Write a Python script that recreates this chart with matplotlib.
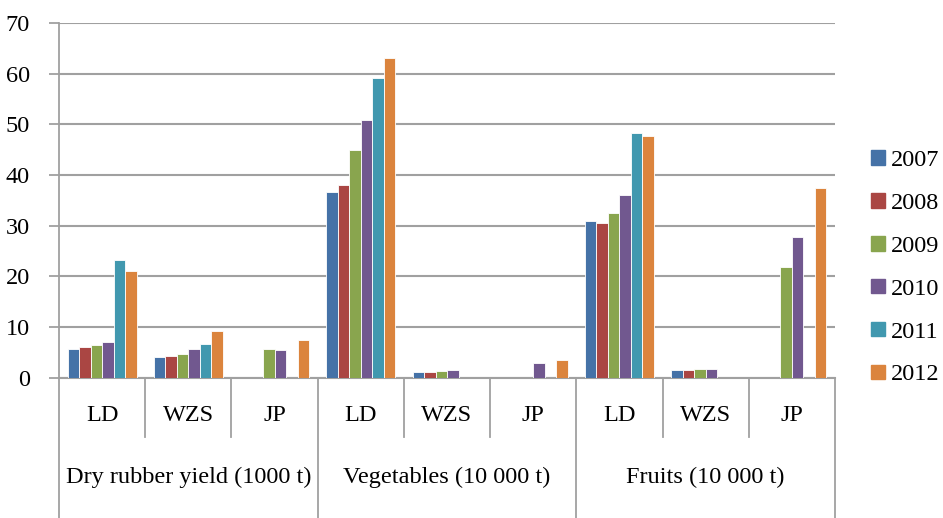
"""
Grouped bar chart of dry rubber, vegetable and fruit output by district, 2007-2012.

Writes out.png next to the script.
"""

from __future__ import annotations

import matplotlib

matplotlib.use("Agg")
import matplotlib.pyplot as plt
import numpy as np
from matplotlib.lines import Line2D
from matplotlib.patches import Patch
from matplotlib.transforms import blended_transform_factory


GROUPS = ["Dry rubber yield (1000 t)", "Vegetables (10 000 t)", "Fruits (10 000 t)"]
SITES = ["LD", "WZS", "JP"]
YEARS = ["2007", "2008", "2009", "2010", "2011", "2012"]

# one list per year, order: rubber LD/WZS/JP, vegetables LD/WZS/JP, fruits LD/WZS/JP
nan = np.nan
Y2007 = [5.6, 4.0, nan, 36.6, 1.0, nan, 30.9, 1.45, nan]
Y2008 = [6.0, 4.2, nan, 38.1, 1.05, nan, 30.5, 1.5, nan]
Y2009 = [6.4, 4.7, 5.6, 44.9, 1.25, nan, 32.4, 1.6, 21.8]
Y2010 = [7.1, 5.6, 5.4, 50.8, 1.45, 2.8, 36.1, 1.65, 27.8]
Y2011 = [23.3, 6.6, nan, 59.2, nan, nan, 48.2, nan, nan]
Y2012 = [21.1, 9.2, 7.5, 63.0, nan, 3.4, 47.6, nan, 37.4]

COLORS = ["#4572A7", "#AA4643", "#89A54E", "#71588F", "#4198AF", "#DB843D"]
GRID = "#A0A0A0"
FONT = "Liberation Serif"
FS = 17.5


def draw_category_axis(ax) -> None:
    trans = blended_transform_factory(ax.transData, ax.transAxes)
    n_sub = len(GROUPS) * len(SITES)
    for i in range(n_sub):
        ax.text(i, -0.108, SITES[i % len(SITES)], transform=trans,
                ha="center", va="center", fontsize=FS, family=FONT)
    for g, name in enumerate(GROUPS):
        center = g * len(SITES) + (len(SITES) - 1) / 2
        ax.text(center, -0.282, name, transform=trans,
                ha="center", va="center", fontsize=FS, family=FONT)
    for k in range(n_sub + 1):
        x = k - 0.5
        y_end = -0.40 if k % len(SITES) == 0 else -0.168
        ax.add_line(Line2D([x, x], [0, y_end], transform=trans, color=GRID,
                           linewidth=1.3, clip_on=False))


def main() -> None:
    series = [Y2007, Y2008, Y2009, Y2010, Y2011, Y2012]
    fig = plt.figure(figsize=(9.43, 5.18), dpi=100)
    ax = fig.add_axes([0.0626, 0.2712, 0.8229, 0.6844])

    x = np.arange(len(Y2007))
    width = 0.8 / len(YEARS)
    for j, (year, values) in enumerate(zip(YEARS, series)):
        offset = (j - (len(YEARS) - 1) / 2) * width
        ax.bar(x + offset, values, width, color=COLORS[j], edgecolor="white",
               linewidth=0.6, label=year, zorder=3)

    ax.set_xlim(-0.5, len(x) - 0.5)
    ax.set_ylim(0, 70)
    ax.set_yticks(np.arange(0, 71, 10))
    ax.set_xticks([])
    ax.grid(axis="y", color=GRID, linewidth=1.5, zorder=0)
    for side in ("top", "right"):
        ax.spines[side].set_visible(False)
    ax.spines["left"].set_color(GRID)
    ax.spines["left"].set_linewidth(1.3)
    ax.spines["bottom"].set_color(GRID)
    ax.spines["bottom"].set_linewidth(1.5)
    ax.tick_params(axis="y", length=7, width=1.3, color=GRID, pad=14,
                   labelsize=FS)
    for label in ax.get_yticklabels():
        label.set_family(FONT)

    draw_category_axis(ax)

    handles = [Patch(color=c, label=y) for c, y in zip(COLORS, YEARS)]
    fig.legend(handles=handles, loc="center left", bbox_to_anchor=(0.924, 0.483),
               frameon=False, prop={"family": FONT, "size": FS},
               handlelength=0.55, handleheight=0.55, handletextpad=0.25,
               labelspacing=0.9, borderpad=0, borderaxespad=0)

    fig.savefig("out.png", dpi=100)
    plt.close(fig)


if __name__ == "__main__":
    main()
